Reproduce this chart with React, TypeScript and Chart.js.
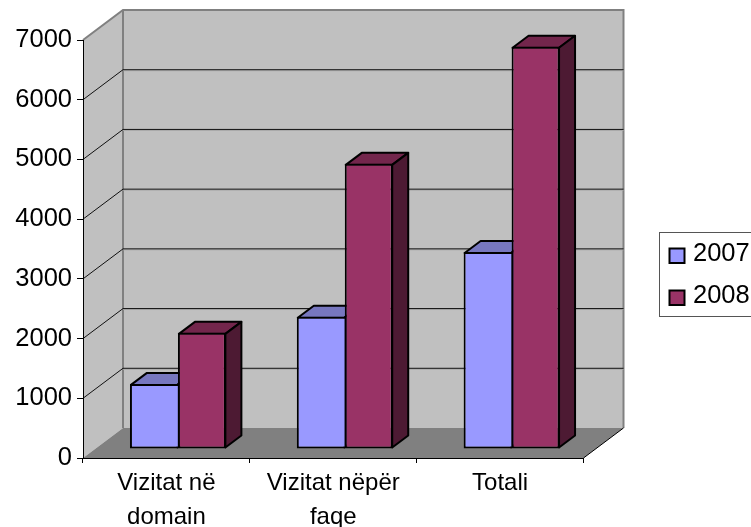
import React, { useEffect, useRef } from "react";
import { Chart, registerables } from "chart.js";

Chart.register(...registerables);

const categories = [["Vizitat në", "domain"], ["Vizitat nëpër", "faqe"], ["Totali"]];
const series2007 = [1090, 2215, 3300];
const series2008 = [1945, 4775, 6735];
const labels = ["2007", "2008"];
const FONT = "'Liberation Sans', Arial, sans-serif";
const AREA_BOTTOM = 458;
const AREA_TOP = 40;
const AREA_LEFT = 83;
const AREA_RIGHT = 583.5;
const WALL_DX = 40;
const WALL_DY = 30;
const BAR_SHIFT_X = 11.5;
const BAR_SHIFT_Y = 9;
const BAR_DX = 16;
const BAR_DY = 12;
const faces = [
  { top: "#7777bf", side: "#4d4d80" },
  { top: "#73264c", side: "#4d1a33" },
];

function poly(ctx: CanvasRenderingContext2D, pts: number[][], fill?: string, stroke?: string, lw = 1) {
  ctx.beginPath();
  pts.forEach((p, i) => (i ? ctx.lineTo(p[0], p[1]) : ctx.moveTo(p[0], p[1])));
  ctx.closePath();
  if (fill) {
    ctx.fillStyle = fill;
    ctx.fill();
  }
  if (stroke) {
    ctx.strokeStyle = stroke;
    ctx.lineWidth = lw;
    ctx.lineJoin = "round";
    ctx.stroke();
  }
}

const walls = {
  id: "walls",
  beforeDraw(chart: any) {
    const { ctx, chartArea: a, scales } = chart;
    const y = scales.y;
    const bx = a.left + WALL_DX;
    const brx = a.right + WALL_DX;
    const by0 = a.bottom - WALL_DY;
    const by1 = a.top - WALL_DY;
    ctx.save();
    poly(ctx, [[a.left, a.top], [bx, by1], [bx, by0], [a.left, a.bottom]], "#c0c0c0");
    poly(ctx, [[bx, by1], [brx, by1], [brx, by0], [bx, by0]], "#c0c0c0");
    poly(ctx, [[a.left, a.bottom], [a.right, a.bottom], [brx, by0], [bx, by0]], "#808080");
    ctx.strokeStyle = "#808080";
    ctx.lineWidth = 2;
    ctx.beginPath();
    ctx.moveTo(a.left, a.top);
    ctx.lineTo(bx, by1);
    ctx.lineTo(brx, by1);
    ctx.lineTo(brx, by0);
    ctx.moveTo(bx, by1);
    ctx.lineTo(bx, by0);
    ctx.stroke();
    y.ticks.forEach((t: any) => {
      if (t.value === 0 || t.value === 7000) return;
      const py = y.getPixelForValue(t.value);
      ctx.strokeStyle = "#a8a8a8";
      ctx.lineWidth = 1;
      ctx.beginPath();
      ctx.moveTo(bx, py - WALL_DY + 1);
      ctx.lineTo(brx, py - WALL_DY + 1);
      ctx.stroke();
      ctx.strokeStyle = "#111";
      ctx.beginPath();
      ctx.moveTo(a.left, py);
      ctx.lineTo(bx, py - WALL_DY);
      ctx.lineTo(brx, py - WALL_DY);
      ctx.stroke();
    });
    ctx.strokeStyle = "#000";
    ctx.lineWidth = 1;
    ctx.beginPath();
    ctx.moveTo(a.right, a.bottom);
    ctx.lineTo(brx, by0);
    ctx.stroke();
    ctx.restore();
  },
};

const bars3d = {
  id: "bars3d",
  beforeDatasetsDraw(chart: any) {
    const { ctx } = chart;
    ctx.save();
    ctx.translate(BAR_SHIFT_X, -BAR_SHIFT_Y);
    chart.data.datasets.forEach((_: any, di: number) => {
      chart.getDatasetMeta(di).data.forEach((el: any) => {
        const p = el.getProps(["x", "y", "base", "width"], true);
        const l = p.x - p.width / 2 + 1;
        const r = p.x + p.width / 2 - 0.5;
        const t = p.y + 1;
        const b = p.base - 1;
        poly(ctx, [[l, t], [r, t], [r + BAR_DX, t - BAR_DY], [l + BAR_DX, t - BAR_DY]], faces[di].top, "#000", 2);
        poly(ctx, [[r, t], [r + BAR_DX, t - BAR_DY], [r + BAR_DX, b - BAR_DY], [r, b]], faces[di].side, "#000", 2);
      });
    });
  },
  afterDatasetsDraw(chart: any) {
    chart.ctx.restore();
  },
};

const legendBox = {
  id: "legendBox",
  afterDraw(chart: any) {
    const { ctx } = chart;
    ctx.save();
    ctx.fillStyle = "#fff";
    ctx.fillRect(659.5, 232.5, 100, 84);
    ctx.strokeStyle = "#555";
    ctx.lineWidth = 1;
    ctx.strokeRect(659.5, 232.5, 100, 84);
    chart.data.datasets.forEach((ds: any, i: number) => {
      const yy = 248.5 + i * 42;
      ctx.fillStyle = ds.backgroundColor;
      ctx.fillRect(669.5, yy, 15, 14.5);
      ctx.strokeStyle = "#000";
      ctx.lineWidth = 2;
      ctx.strokeRect(669.5, yy, 15, 14.5);
      ctx.fillStyle = "#000";
      ctx.font = `25.5px ${FONT}`;
      ctx.textBaseline = "middle";
      ctx.textAlign = "left";
      ctx.fillText(ds.label, 693, yy + 5);
    });
    ctx.restore();
  },
};

export default function App() {
  const ref = useRef<HTMLCanvasElement>(null);
  useEffect(() => {
    const chart = new Chart(ref.current!, {
      type: "bar",
      data: {
        labels: categories as any,
        datasets: [
          {
            label: labels[0],
            data: series2007,
            backgroundColor: "#9999ff",
            borderColor: "#000",
            borderWidth: { top: 2, left: 2, right: 0, bottom: 2 },
            borderSkipped: false,
          },
          {
            label: labels[1],
            data: series2008,
            backgroundColor: "#993366",
            borderColor: "#000",
            borderWidth: 2,
            borderSkipped: false,
          },
        ],
      },
      plugins: [walls, bars3d, legendBox],
      options: {
        animation: false,
        responsive: false,
        devicePixelRatio: 1,
        clip: false,
        categoryPercentage: 0.575,
        barPercentage: 1,
        layout: {
          autoPadding: false,
          padding: { top: AREA_TOP, left: 0, right: 751 - AREA_RIGHT, bottom: 0 },
        },
        plugins: { legend: { display: false }, tooltip: { enabled: false } },
        scales: {
          x: {
            type: "category",
            afterFit: (s: any) => {
              s.height = 527 - AREA_BOTTOM;
            },
            grid: { drawOnChartArea: false, drawTicks: true, tickLength: 5, color: "#000", offset: true },
            border: { color: "#000", width: 1 },
            ticks: {
              color: "#000",
              padding: 3,
              maxRotation: 0,
              autoSkip: false,
              font: { family: FONT, size: 24, lineHeight: 1.42 },
            },
          },
          y: {
            type: "linear",
            min: 0,
            max: 7000,
            afterFit: (s: any) => {
              s.width = AREA_LEFT;
            },
            grid: { drawOnChartArea: false, drawTicks: true, tickLength: 6, color: "#000" },
            border: { color: "#000", width: 1 },
            ticks: {
              stepSize: 1000,
              color: "#000",
              padding: 5,
              font: { family: FONT, size: 25.5 },
              callback: (v: any) => String(v),
            },
          },
        },
      } as any,
    });
    return () => chart.destroy();
  }, []);
  return (
    <canvas
      ref={ref}
      width={751}
      height={527}
      style={{ position: "absolute", left: 0, top: 0, display: "block" }}
    />
  );
}
